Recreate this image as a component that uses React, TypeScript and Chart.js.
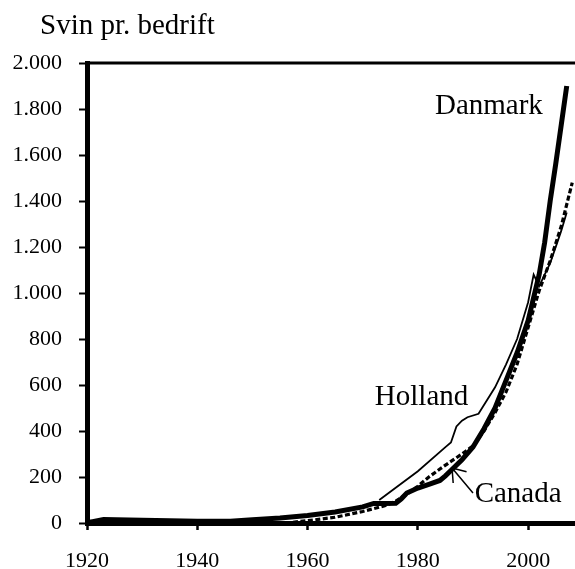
import React, { useEffect, useRef } from "react";
import { Chart, registerables } from "chart.js";

Chart.register(...registerables);

const titleText = "Svin pr. bedrift";

const xTickYears = [1920, 1940, 1960, 1980, 2000];
const yTickValues = [0, 200, 400, 600, 800, 1000, 1200, 1400, 1600, 1800, 2000];
const xMin = 1920;
const xMax = 2008.5;
const yMin = 0;
const yMax = 2000;

const danmarkYears = [1920, 1921, 1923, 1930, 1940, 1946, 1950, 1955, 1960, 1965, 1970, 1972, 1974, 1976, 1977, 1978, 1980, 1982, 1984, 1985, 1986, 1988, 1990, 1992, 1994, 1996, 1998, 2000, 2002, 2003, 2004, 2005, 2006, 2007];
const danmarkValues = [2, 6, 15, 12, 8, 8, 14, 22, 33, 48, 70, 85, 85, 86, 105, 130, 152, 168, 185, 205, 228, 275, 330, 410, 500, 620, 740, 880, 1080, 1220, 1400, 1560, 1730, 1900];

const hollandYears = [1973, 1980, 1985, 1986, 1987, 1988, 1989, 1991, 1994, 1996, 1998, 2000, 2001, 2002, 2004, 2006, 2007];
const hollandValues = [100, 225, 330, 350, 420, 445, 460, 475, 590, 690, 800, 960, 1080, 1030, 1130, 1270, 1350];

const canadaYears = [1956, 1960, 1965, 1970, 1974, 1976, 1978, 1980, 1982, 1984, 1986, 1988, 1990, 1992, 1994, 1996, 1998, 2000, 2002, 2004, 2006, 2008];
const canadaValues = [0, 10, 25, 50, 75, 95, 125, 160, 200, 235, 268, 300, 335, 400, 480, 570, 690, 850, 1010, 1140, 1290, 1480];

const labelNames = ["Danmark", "Holland", "Canada"];
const labelYears = [1983.1, 1972.2, 1990.3];
const labelValues = [1778, 513, 93];

const arrowFromYear = 1990.0;
const arrowFromValue = 130;
const arrowToYear = 1986.2;
const arrowToValue = 239;

const FONT = '"Liberation Serif", "Times New Roman", serif';

const fmt = (v: number) => String(v).replace(/\B(?=(\d{3})+(?!\d))/g, ".");

const toPoints = (xs: number[], ys: number[]) => xs.map((x, i) => ({ x, y: ys[i] }));

const overlay = {
  id: "overlay",
  afterDraw(chart: any) {
    const { ctx, chartArea } = chart;
    const xs = chart.scales.x;
    const ys = chart.scales.y;
    ctx.save();
    ctx.strokeStyle = "#000";
    ctx.lineWidth = 3;
    ctx.beginPath();
    ctx.moveTo(chartArea.left - 2, chartArea.top);
    ctx.lineTo(chartArea.right, chartArea.top);
    ctx.stroke();

    ctx.fillStyle = "#000";
    ctx.font = `29px ${FONT}`;
    ctx.textAlign = "left";
    ctx.textBaseline = "alphabetic";
    ctx.fillText(titleText, 40, 34);

    labelNames.forEach((n, i) => {
      ctx.fillText(n, xs.getPixelForValue(labelYears[i]), ys.getPixelForValue(labelValues[i]));
    });

    const x1 = xs.getPixelForValue(arrowFromYear);
    const y1 = ys.getPixelForValue(arrowFromValue);
    const x2 = xs.getPixelForValue(arrowToYear);
    const y2 = ys.getPixelForValue(arrowToValue);
    ctx.lineWidth = 1.5;
    ctx.beginPath();
    ctx.moveTo(x1, y1);
    ctx.lineTo(x2, y2);
    const ang = Math.atan2(y2 - y1, x2 - x1);
    const head = 15;
    const spread = 0.62;
    ctx.moveTo(x2 - head * Math.cos(ang - spread), y2 - head * Math.sin(ang - spread));
    ctx.lineTo(x2, y2);
    ctx.lineTo(x2 - head * Math.cos(ang + spread), y2 - head * Math.sin(ang + spread));
    ctx.stroke();
    ctx.restore();
  },
};

export default function App() {
  const ref = useRef<HTMLCanvasElement | null>(null);
  useEffect(() => {
    if (!ref.current) return;
    const chart = new Chart(ref.current, {
      type: "line",
      data: {
        datasets: [
          {
            label: "Danmark",
            data: toPoints(danmarkYears, danmarkValues),
            borderColor: "#000",
            borderWidth: 5,
            pointRadius: 0,
            tension: 0,
            fill: false,
          },
          {
            label: "Canada",
            data: toPoints(canadaYears, canadaValues),
            borderColor: "#000",
            borderWidth: 3.2,
            borderDash: [5, 2.5],
            pointRadius: 0,
            tension: 0,
            fill: false,
          },
          {
            label: "Holland",
            data: toPoints(hollandYears, hollandValues),
            borderColor: "#000",
            borderWidth: 1.8,
            pointRadius: 0,
            tension: 0,
            fill: false,
          },
        ],
      },
      options: {
        animation: false,
        responsive: false,
        devicePixelRatio: 1,
        layout: { padding: { top: 63, left: 0, right: 0, bottom: 0 } },
        plugins: { legend: { display: false }, tooltip: { enabled: false }, title: { display: false } },
        scales: {
          x: {
            type: "linear",
            min: xMin,
            max: xMax,
            afterBuildTicks: (s: any) => {
              s.ticks = xTickYears.map((v) => ({ value: v }));
            },
            afterFit: (s: any) => {
              s.height = 46;
            },
            grid: {
              drawOnChartArea: false,
              drawTicks: true,
              tickLength: 7,
              tickWidth: 2.5,
              tickColor: "#000",
            },
            border: { display: true, color: "#000", width: 5 },
            ticks: {
              color: "#000",
              font: { family: FONT, size: 22 },
              padding: 18,
              maxRotation: 0,
              autoSkip: false,
              callback: (v: any) => String(v),
            },
          },
          y: {
            type: "linear",
            min: yMin,
            max: yMax,
            afterBuildTicks: (s: any) => {
              s.ticks = yTickValues.map((v) => ({ value: v }));
            },
            afterFit: (s: any) => {
              s.width = 87;
            },
            grid: {
              drawOnChartArea: false,
              drawTicks: true,
              tickLength: 8,
              tickWidth: 2,
              tickColor: "#000",
            },
            border: { display: true, color: "#000", width: 5 },
            ticks: {
              color: "#000",
              font: { family: FONT, size: 22 },
              padding: 17,
              autoSkip: false,
              callback: (v: any) => fmt(Number(v)),
            },
          },
        },
      },
      plugins: [overlay],
    });
    return () => chart.destroy();
  }, []);
  return (
    <div style={{ position: "fixed", left: 0, top: 0, width: 575, height: 569, background: "#fff" }}>
      <canvas ref={ref} width={575} height={569} style={{ width: 575, height: 569, display: "block" }} />
    </div>
  );
}
